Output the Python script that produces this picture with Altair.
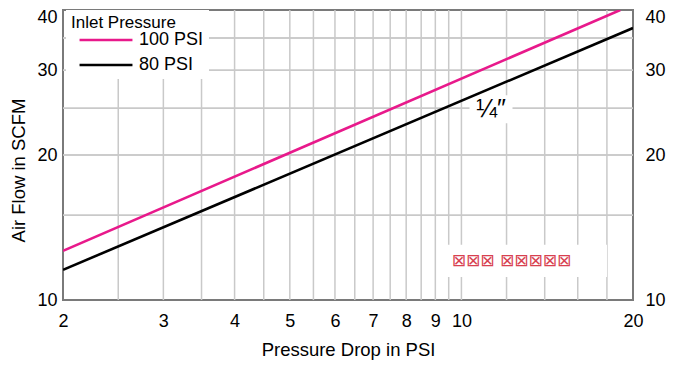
import altair as alt
import pandas as pd

FONT = "Liberation Sans, Arial, sans-serif"

# ---- data ----
series_names = ["100 PSI", "80 PSI"]
drop_100 = [2, 19]
flow_100 = [12.65, 40.0]
drop_80 = [2, 20]
flow_80 = [11.55, 36.7]

x_tick_labels = [2, 3, 4, 5, 6, 7, 8, 9, 10, 20]
y_tick_labels = [10, 20, 30, 40]
x_grid = [2.5, 3, 3.5, 4, 4.5, 5, 5.5, 6, 6.5, 7, 7.5, 8, 8.5, 9, 9.5, 10, 12, 14, 16, 18]
y_grid = [15, 20, 25, 30, 35]

frac_text = ["\u00bc\u2033"]
frac_x = [11.27]
frac_y = [24.9]
tofu_text = ["\u22a0\u22a0\u22a0 \u22a0\u22a0\u22a0\u22a0\u22a0"]
tofu_x = [9.62]
tofu_y = [12.05]
tofu_box_x = [13.0]

lines_df = pd.DataFrame(
    {"drop": drop_100 + drop_80,
     "flow": flow_100 + flow_80,
     "series": [series_names[0]] * len(drop_100) + [series_names[1]] * len(drop_80)}
)
xg_df = pd.DataFrame({"v": x_grid})
yg_df = pd.DataFrame({"v": y_grid})
frac_df = pd.DataFrame({"t": frac_text, "x": frac_x, "y": frac_y})
tofu_df = pd.DataFrame({"t": tofu_text, "x": tofu_x, "y": tofu_y, "bx": tofu_box_x})

xscale = alt.Scale(type="log", domain=[2, 20], nice=False)
yscale = alt.Scale(type="log", domain=[10, 40], nice=False)

top_shift = {"condition": {"test": "datum.value == 40", "value": 7.5}, "value": 0}

x_axis = alt.Axis(values=x_tick_labels, grid=False, ticks=False, domain=False,
                  labelFont=FONT, labelFontSize=18, labelColor="black", labelPadding=12,
                  labelFlush=False, labelOverlap=False,
                  title="Pressure Drop in PSI", titleFont=FONT, titleFontSize=18.5,
                  titleFontWeight="normal", titleColor="black", titlePadding=10)
y_left = alt.Axis(orient="left", values=y_tick_labels, grid=False, ticks=False, domain=False,
                  labelFont=FONT, labelFontSize=18, labelColor="black", labelPadding=6,
                  labelFlush=False, labelOverlap=False, labelOffset=top_shift,
                  title="Air Flow in SCFM", titleFont=FONT, titleFontSize=18.5,
                  titleFontWeight="normal", titleColor="black", titlePadding=8,
                  titleY=160)
y_right = alt.Axis(orient="right", values=y_tick_labels, grid=False, ticks=False, domain=False,
                   labelFont=FONT, labelFontSize=18, labelColor="black", labelPadding=12,
                   labelFlush=False, labelOverlap=False, labelOffset=top_shift, title=None)

grid_col = "#c9c9c9"

# right-hand axis carrier (drawn first, under everything)
right_carrier = alt.Chart(yg_df).mark_rule(color=grid_col, strokeWidth=1.5).encode(
    y=alt.Y("v:Q", scale=yscale, axis=y_right)
)

xgrid = alt.Chart(xg_df).mark_rule(color=grid_col, strokeWidth=1.5).encode(
    x=alt.X("v:Q", scale=xscale, axis=x_axis)
)
ygrid = alt.Chart(yg_df).mark_rule(color=grid_col, strokeWidth=1.5).encode(
    y=alt.Y("v:Q", scale=yscale, axis=y_left)
)

bg1 = alt.Chart(frac_df).mark_point(shape="M-1,-0.65H1V0.65H-1Z", filled=True, color="white",
                                    opacity=1, size=1850).encode(
    x=alt.X("x:Q", scale=xscale), y=alt.Y("y:Q", scale=yscale)
)
bg2 = alt.Chart(tofu_df).mark_point(shape="M-1,-0.2H1V0.2H-1Z", filled=True, color="white",
                                    opacity=1, size=26000).encode(
    x=alt.X("bx:Q", scale=xscale), y=alt.Y("y:Q", scale=yscale)
)

lines = alt.Chart(lines_df).mark_line(strokeWidth=2.6, clip=True).encode(
    x=alt.X("drop:Q", scale=xscale),
    y=alt.Y("flow:Q", scale=yscale),
    color=alt.Color("series:N",
                    scale=alt.Scale(domain=series_names, range=["#e8198b", "#000000"]),
                    sort=series_names,
                    legend=alt.Legend(title="Inlet Pressure", orient="none", legendX=3, legendY=0,
                                      fillColor="white", padding=5, symbolType="stroke",
                                      symbolSize=2800, symbolStrokeWidth=2.6, symbolOffset=7,
                                      clipHeight=14, rowPadding=7,
                                      labelFont=FONT, labelFontSize=18, labelColor="black",
                                      labelOffset=5,
                                      titleFont=FONT, titleFontSize=17, titleFontWeight="normal",
                                      titleColor="black", titlePadding=1)),
)

t1 = alt.Chart(frac_df).mark_text(font=FONT, fontSize=25, color="black").encode(
    x=alt.X("x:Q", scale=xscale), y=alt.Y("y:Q", scale=yscale), text="t:N"
)
t2 = alt.Chart(tofu_df).mark_text(font="DejaVu Sans", fontSize=17, color="#d42d3e", opacity=0.9,
                                  align="left").encode(
    x=alt.X("x:Q", scale=xscale), y=alt.Y("y:Q", scale=yscale), text="t:N"
)

left_layer = alt.layer(xgrid, ygrid, bg1, bg2, lines, t1, t2)
chart = alt.layer(right_carrier, left_layer).resolve_scale(y="shared").resolve_axis(y="independent").properties(
    width=570, height=290,
    autosize=alt.AutoSizeParams(type="none"),
    padding={"left": 55, "top": 2, "right": 42, "bottom": 70},
).configure_view(stroke="#7a7a7a", strokeWidth=2)

chart.save("out.html", embed_options={"renderer": "svg", "actions": False})
